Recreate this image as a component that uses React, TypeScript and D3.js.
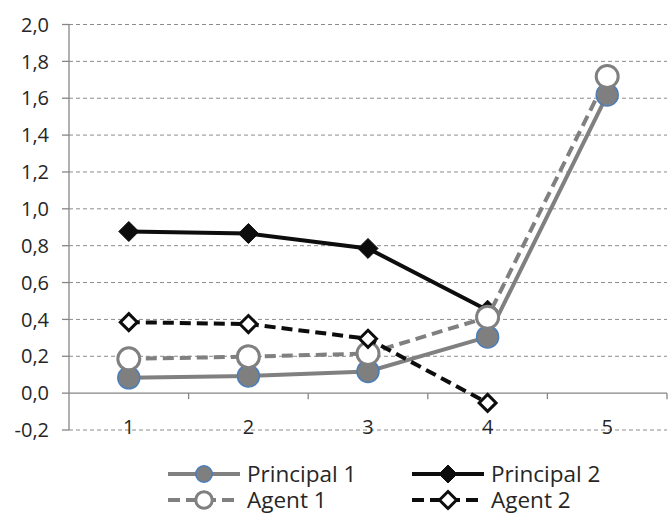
import React from "react";
import * as d3 from "d3";

const categories = ["1", "2", "3", "4", "5"];
const principal1 = [0.083, 0.093, 0.118, 0.305, 1.618];
const principal2: (number | null)[] = [0.877, 0.866, 0.785, 0.45, null];
const agent1 = [0.186, 0.198, 0.215, 0.412, 1.718];
const agent2: (number | null)[] = [0.385, 0.375, 0.295, -0.053, null];
const yTicks = [-0.2, 0, 0.2, 0.4, 0.6, 0.8, 1.0, 1.2, 1.4, 1.6, 1.8, 2.0];

const W = 668;
const H = 520;
const FONT = "'Open Sans', Lato, sans-serif";

type Series = {
  name: string;
  values: (number | null)[];
  color: string;
  dash: string | null;
  marker: "circle" | "diamond";
  fill: string;
  mstroke: string;
  mstrokeW: number;
};

const series: Series[] = [
  { name: "Principal 1", values: principal1, color: "#808080", dash: null, marker: "circle", fill: "#7f7f7f", mstroke: "#4a7ebb", mstrokeW: 1.5 },
  { name: "Principal 2", values: principal2, color: "#0d0d0d", dash: null, marker: "diamond", fill: "#0d0d0d", mstroke: "#0d0d0d", mstrokeW: 1 },
  { name: "Agent 1", values: agent1, color: "#808080", dash: "11,6", marker: "circle", fill: "#ffffff", mstroke: "#808080", mstrokeW: 3 },
  { name: "Agent 2", values: agent2, color: "#0d0d0d", dash: "11,6", marker: "diamond", fill: "#ffffff", mstroke: "#0d0d0d", mstrokeW: 3 },
];

function Marker({ s, x, y, scale = 1 }: { s: Series; x: number; y: number; scale?: number }) {
  if (s.marker === "circle") {
    return <circle cx={x} cy={y} r={11 * scale} fill={s.fill} stroke={s.mstroke} strokeWidth={s.mstrokeW} />;
  }
  const r = 10 * scale;
  const inner = s.fill === "#ffffff" ? r - 1.5 : r;
  return (
    <path
      d={`M${x},${y - inner}L${x + inner},${y}L${x},${y + inner}L${x - inner},${y}Z`}
      fill={s.fill}
      stroke={s.mstroke}
      strokeWidth={s.mstrokeW}
      strokeLinejoin="miter"
    />
  );
}

export default function App() {
  const left = 69;
  const right = 667;
  const y = d3.scaleLinear().domain([-0.2, 2.0]).range([430, 24.5]);
  const x = d3.scaleBand().domain(categories).range([left, right]).padding(0);
  const cx = (c: string) => (x(c) as number) + x.bandwidth() / 2;
  const y0 = y(0);

  const line = d3
    .line<[string, number | null]>()
    .defined((d) => d[1] !== null)
    .x((d) => cx(d[0]))
    .y((d) => y(d[1] as number));

  const legendItems = [
    { s: series[0], lx: 168, ly: 474, ms: 0.75 },
    { s: series[1], lx: 412, ly: 474, ms: 0.9 },
    { s: series[2], lx: 168, ly: 500, ms: 0.75 },
    { s: series[3], lx: 412, ly: 500, ms: 1.0 },
  ];

  return (
    <svg width={W} height={H} style={{ position: "absolute", left: 0, top: 0, background: "#fff" }} fontFamily={FONT}>
      {/* gridlines */}
      {yTicks.map((t) => (
        t === 0 ? null : (
          <line key={"g" + t} x1={left} x2={right} y1={y(t)} y2={y(t)} stroke="#8c8c8c" strokeWidth={1} strokeDasharray="4,3" />
        )
      ))}
      {/* y axis */}
      <line x1={left} x2={left} y1={y(2.0)} y2={y(-0.2)} stroke="#868686" strokeWidth={1.3} />
      {yTicks.map((t) => (
        <g key={"yt" + t}>
          <line x1={left - 7} x2={left} y1={y(t)} y2={y(t)} stroke="#868686" strokeWidth={1.3} />
          <text x={49} y={y(t)} dy="0.36em" textAnchor="end" fontSize={20} fill="#262626">
            {d3.format(".1f")(t).replace(".", ",").replace("−", "-")}
          </text>
        </g>
      ))}
      {/* x axis at zero */}
      <line x1={left} x2={right} y1={y0} y2={y0} stroke="#868686" strokeWidth={1.3} />
      {categories.map((c, i) => (
        <line key={"xt" + i} x1={(x(c) as number) + x.bandwidth()} x2={(x(c) as number) + x.bandwidth()} y1={y0} y2={y0 + 6} stroke="#868686" strokeWidth={1.3} />
      ))}
      {categories.map((c) => (
        <text key={"xl" + c} x={cx(c)} y={427} dy="0.36em" textAnchor="middle" fontSize={20} fill="#262626">
          {c}
        </text>
      ))}
      {/* series */}
      {series.map((s) => {
        const pts = categories.map((c, i) => [c, s.values[i]] as [string, number | null]);
        return (
          <g key={s.name}>
            <path d={line(pts) || ""} fill="none" stroke={s.color} strokeWidth={4} strokeDasharray={s.dash || undefined} />
            {pts.filter((p) => p[1] !== null).map((p) => (
              <Marker key={p[0]} s={s} x={cx(p[0])} y={y(p[1] as number)} />
            ))}
          </g>
        );
      })}
      {/* legend */}
      {legendItems.map(({ s, lx, ly, ms }) => (
        <g key={"lg" + s.name}>
          <line x1={lx} x2={lx + 72} y1={ly} y2={ly} stroke={s.color} strokeWidth={4} strokeDasharray={s.dash ? "12,6" : undefined} />
          <Marker s={s} x={lx + 36} y={ly} scale={ms} />
          <text x={lx + 79} y={ly} dy="0.36em" fontSize={22.5} fill="#262626">
            {s.name}
          </text>
        </g>
      ))}
    </svg>
  );
}
